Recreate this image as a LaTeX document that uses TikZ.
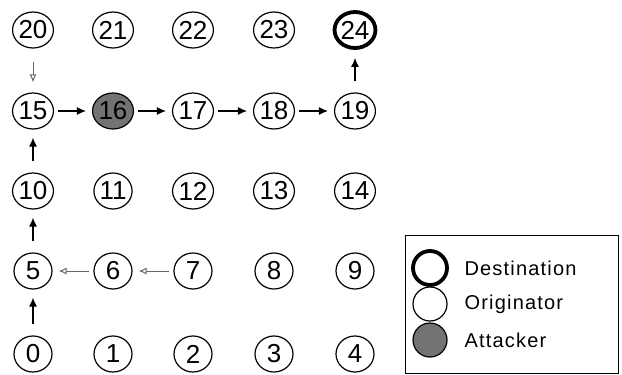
\documentclass[tikz,border=0pt]{standalone}
\usepackage{fontspec}
\setmainfont{Liberation Sans}
\usetikzlibrary{shapes.geometric,arrows.meta}
\tikzset{
  nd/.style={ellipse,draw=black,line width=1.2pt,minimum width=38pt,minimum height=36pt,inner sep=0pt,font=\fontsize{26}{26}\selectfont},
  dest/.style={nd,line width=3.8pt},
  atk/.style={nd,fill=black!55},
  blk/.style={line width=1.1pt,-{Latex[length=9pt,width=8pt]},shorten <=4pt,shorten >=6pt},
  vblk/.style={line width=1.1pt,-{Latex[length=9pt,width=8pt]},shorten <=11pt,shorten >=8pt},
  gry/.style={line width=1pt,draw=black!60,-{Latex[open,length=8pt,width=7pt]},shorten <=4pt,shorten >=6pt},
  lg/.style={circle,draw=black,line width=1.2pt,minimum size=34pt,inner sep=0pt},
  lgtext/.style={anchor=west,font=\fontsize{20}{20}\selectfont\addfontfeature{LetterSpace=6}},
}
\begin{document}
\begin{tikzpicture}[x=1pt,y=-1pt]
\useasboundingbox (0,0) rectangle (622,375);
% grid
\foreach \r/\yy in {0/354,1/271,2/191,3/111,4/30}{
  \foreach \c/\xx in {0/33,1/113,2/193,3/274,4/355}{
    \pgfmathtruncatemacro{\n}{\r*5+\c}
    \ifnum\n=24
      \node[dest] (n\n) at (\xx,\yy) {\n};
    \else\ifnum\n=16
      \node[atk] (n\n) at (\xx,\yy) {\n};
    \else
      \node[nd] (n\n) at (\xx,\yy) {\n};
    \fi\fi
  }
}
% black arrows
\draw[blk] (n15) -- (n16);
\draw[blk] (n16) -- (n17);
\draw[blk] (n17) -- (n18);
\draw[blk] (n18) -- (n19);
\draw[vblk] (n19) -- (n24);
\draw[vblk] (n10) -- (n15);
\draw[vblk] (n5) -- (n10);
\draw[vblk] (n0) -- (n5);
% gray arrows
\draw[gry] (n7) -- (n6);
\draw[gry] (n6) -- (n5);
\draw[gry,shorten <=13pt,shorten >=10pt] (n20) -- (n15);
% legend
\node[draw=black,line width=0.8pt,minimum width=213pt,minimum height=138pt,anchor=north west,inner sep=0pt] (box) at (405,235) {};
\node[lg,line width=3.8pt] (ld) at (430,268) {};
\node[lg] (lo) at (430,304) {};
\node[lg,fill=black!55] (la) at (430,340) {};
\node[lgtext] (tdest) at (461,268) {Destination};
\node[lgtext] (torig) at (461,304) {Originator};
\node[lgtext] (tatk) at (461,340) {Attacker};
\end{tikzpicture}
\end{document}
